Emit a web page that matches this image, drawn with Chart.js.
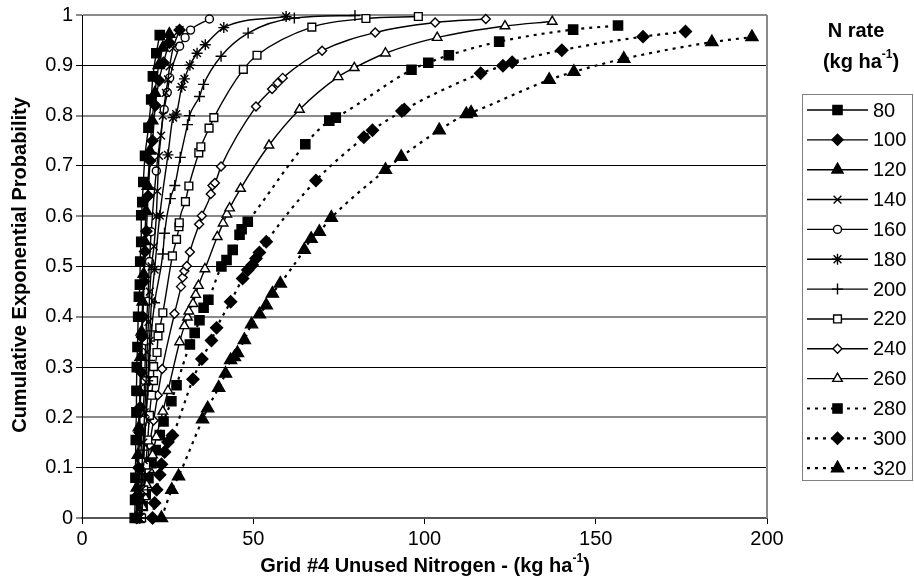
<!DOCTYPE html>
<html>
<head>
<meta charset="utf-8">
<script src="https://cdn.jsdelivr.net/npm/chart.js@4.4.1/dist/chart.umd.min.js"></script>
<style>
  html, body { margin: 0; padding: 0; background: #fff; }
  canvas { display: block; }
</style>
</head>
<body>
<canvas id="cdfChart" width="914" height="581"></canvas>
<script>
// Cumulative exponential probability of unused N, one series per N rate
// ============================================================
const RATES = ['80','100','120','140','160','180','200','220','240','260','280','300','320'];
const X_TICKS = [0, 50, 100, 150, 200];

const x80  = [15.4,15.5,15.6,15.7,15.9,15.9,16.0,16.2,16.4,16.6,16.9,17.0,17.3,17.3,17.6,17.9,18.4,19.4,20.2,20.7,21.7,22.7];
const y80  = [0,0.036,0.08,0.155,0.21,0.253,0.30,0.34,0.40,0.44,0.464,0.51,0.549,0.602,0.628,0.668,0.72,0.776,0.832,0.878,0.924,0.960];
const x100 = [16.0,16.2,16.5,16.8,17.0,17.3,17.5,17.8,18.1,18.4,18.8,19.3,19.9,20.6,21.4,22.5,23.8,25.5,28.5];
const y100 = [0,0.045,0.10,0.17,0.22,0.29,0.36,0.40,0.47,0.53,0.57,0.64,0.71,0.75,0.82,0.87,0.905,0.945,0.970];
const x120 = [15.8,16.0,16.3,16.6,16.9,17.1,17.4,17.7,18.0,18.3,18.7,19.2,19.8,20.5,21.3,22.4,23.6,25.5];
const y120 = [0,0.06,0.125,0.18,0.25,0.32,0.37,0.43,0.485,0.55,0.61,0.66,0.73,0.79,0.845,0.90,0.935,0.962];
const x140 = [16.5,17.0,17.4,17.9,18.3,18.7,19.0,19.4,19.8,20.3,21.0,21.7,22.0,22.5,23.1,23.6,24.5,25.1,25.6,26.6,28.5];
const y140 = [0,0.04,0.09,0.15,0.21,0.27,0.33,0.39,0.45,0.50,0.54,0.60,0.65,0.72,0.76,0.80,0.845,0.872,0.898,0.934,0.970];
const x160 = [15.9,16.5,17.1,17.7,18.3,18.6,19.2,19.7,20.2,21.7,24.0,24.9,25.6,28.5,30.1,31.7,37.2];
const y160 = [0,0.056,0.115,0.194,0.273,0.352,0.431,0.510,0.569,0.690,0.812,0.846,0.875,0.938,0.955,0.970,0.992];
const x180 = [16.8,17.4,18.0,18.6,19.2,19.7,20.3,21.2,22.7,25.1,26.6,27.5,29.1,29.9,31.5,33.6,36.0,41.4,59.6];
const y180 = [0,0.056,0.115,0.194,0.273,0.352,0.431,0.494,0.601,0.722,0.796,0.803,0.857,0.873,0.900,0.924,0.941,0.975,0.997];
const x200 = [16.8,17.4,18.0,18.6,19.2,19.7,20.3,21.2,23.6,24.1,25.8,27.1,28.7,30.8,31.4,34.3,35.5,40.6,48.5,62.0,79.7];
const y200 = [0,0.076,0.135,0.194,0.253,0.313,0.372,0.428,0.525,0.566,0.635,0.661,0.717,0.782,0.800,0.838,0.862,0.918,0.964,0.994,0.999];
const x220 = [17.4,18.0,18.6,19.2,19.7,20.3,20.9,20.9,21.9,22.2,22.7,23.6,26.4,27.6,28.3,28.4,30.2,31.2,34.1,34.7,37.1,38.5,47.1,51.1,67.1,82.9,98.2];
const y220 = [0,0.056,0.105,0.155,0.204,0.244,0.273,0.301,0.329,0.362,0.378,0.408,0.521,0.554,0.579,0.587,0.629,0.660,0.726,0.738,0.775,0.796,0.892,0.920,0.976,0.993,0.997];
const x240 = [17.1,18.0,18.9,19.7,20.9,22.1,23.4,27.0,28.9,29.4,29.9,30.6,31.5,34.2,35.0,37.6,38.1,38.8,40.6,50.8,55.5,57.1,58.6,70.1,85.6,103.1,117.9];
const y240 = [0,0.052,0.096,0.145,0.194,0.244,0.296,0.406,0.460,0.478,0.491,0.501,0.529,0.584,0.601,0.644,0.661,0.666,0.699,0.818,0.853,0.865,0.875,0.929,0.965,0.985,0.992];
const x260 = [17.1,17.7,18.3,18.9,19.7,20.6,21.7,23.6,25.1,28.5,29.9,30.8,31.2,32.4,33.2,34.0,35.9,39.5,41.2,42.3,43.1,46.3,54.6,63.5,74.8,79.5,88.6,103.7,123.5,137.3];
const y260 = [0,0.022,0.042,0.066,0.096,0.125,0.161,0.212,0.253,0.350,0.382,0.399,0.411,0.426,0.444,0.462,0.495,0.559,0.586,0.604,0.616,0.655,0.741,0.812,0.877,0.895,0.924,0.955,0.978,0.987];
const x280 = [16.8,17.7,18.6,19.4,20.3,21.5,22.7,23.8,26.1,27.6,31.5,32.9,34.3,35.5,36.9,40.7,42.2,44.0,46.0,46.6,48.4,65.2,72.2,74.1,96.2,101.1,107.1,121.8,143.4,156.5];
const y280 = [0,0.024,0.047,0.079,0.109,0.135,0.165,0.192,0.232,0.264,0.345,0.368,0.393,0.418,0.434,0.500,0.513,0.533,0.563,0.574,0.589,0.743,0.790,0.796,0.891,0.905,0.920,0.947,0.971,0.979];
const x300 = [20.6,21.2,21.8,22.7,23.2,24.1,25.1,26.4,32.4,35.0,37.8,39.3,43.4,46.9,48.4,49.7,50.8,51.8,53.8,68.3,82.3,84.8,93.4,94.1,116.4,122.9,125.6,140.1,163.8,176.2];
const y300 = [0,0.030,0.056,0.086,0.107,0.131,0.151,0.164,0.276,0.316,0.353,0.378,0.430,0.476,0.493,0.503,0.516,0.528,0.549,0.671,0.757,0.771,0.809,0.812,0.884,0.899,0.906,0.930,0.957,0.967];
const x320 = [23.2,26.2,28.2,35.2,36.7,39.9,41.9,43.4,44.5,45.4,47.4,49.5,51.8,53.8,55.6,57.9,64.9,66.9,69.3,72.8,88.6,93.2,104.3,112.2,113.6,136.4,143.6,158.2,183.9,195.6];
const y320 = [0,0.056,0.083,0.196,0.218,0.259,0.287,0.314,0.320,0.328,0.354,0.385,0.405,0.423,0.446,0.466,0.533,0.555,0.569,0.597,0.692,0.718,0.771,0.803,0.806,0.871,0.887,0.913,0.946,0.956];

const SERIES = [[x80,y80],[x100,y100],[x120,y120],[x140,y140],[x160,y160],[x180,y180],[x200,y200],
                [x220,y220],[x240,y240],[x260,y260],[x280,y280],[x300,y300],[x320,y320]];

// marker look per series (Excel-style)
const MARKERS = [
  { style:'rect',     r:6.5, fill:'#000' },
  { style:'rectRot',  r:5.5, fill:'#000' },
  { style:'triangle', r:6.5, fill:'#000' },
  { style:'crossRot', r:5.5, fill:'#000' },
  { style:'circle',   r:4,   fill:'#fff' },
  { style:'star',     r:5.5, fill:'#000' },
  { style:'cross',    r:5.5, fill:'#000' },
  { style:'rect',     r:5.5, fill:'#fff' },
  { style:'rectRot',  r:4.5, fill:'#fff' },
  { style:'triangle', r:5.5, fill:'#fff' },
  { style:'rect',     r:6.5, fill:'#000' },
  { style:'rectRot',  r:6,   fill:'#000' },
  { style:'triangle', r:7,   fill:'#000' },
];

const FONT = "'Liberation Sans', Arial, sans-serif";
const DOTTED = [3, 5];

const datasets = RATES.map((rate, i) => {
  const m = MARKERS[i];
  const dotted = i >= 10;
  return {
    label: rate,
    data: SERIES[i][0].map((x, k) => ({ x, y: SERIES[i][1][k] })),
    showLine: true,
    borderColor: '#000',
    borderWidth: dotted ? 2.2 : 1.4,
    borderDash: dotted ? DOTTED : [],
    cubicInterpolationMode: 'monotone',
    pointStyle: m.style,
    pointRadius: m.r,
    pointHoverRadius: m.r,
    pointBackgroundColor: m.fill,
    pointBorderColor: '#000',
    pointBorderWidth: 1.4,
    clip: false,
  };
});

// superscript "-1" helper for the unit text
function drawUnit(ctx, pre, sup, post, cx, cy, size) {
  const big = `bold ${size}px ${FONT}`, small = `bold ${Math.round(size * 0.62)}px ${FONT}`;
  ctx.font = big;   const w1 = ctx.measureText(pre).width, w3 = ctx.measureText(post).width;
  ctx.font = small; const w2 = ctx.measureText(sup).width;
  let x = cx - (w1 + w2 + w3) / 2;
  ctx.textAlign = 'left'; ctx.textBaseline = 'middle';
  ctx.font = big;   ctx.fillText(pre, x, cy); x += w1;
  ctx.font = small; ctx.fillText(sup, x, cy - size * 0.36); x += w2;
  ctx.font = big;   ctx.fillText(post, x, cy);
}

const decorPlugin = {
  id: 'decor',
  afterDraw(chart) {
    const ctx = chart.ctx, a = chart.chartArea;
    ctx.save();
    // plot frame on the right
    ctx.strokeStyle = '#8a8a8a'; ctx.lineWidth = 2; ctx.setLineDash([]);
    ctx.beginPath(); ctx.moveTo(a.right, a.top); ctx.lineTo(a.right, a.bottom); ctx.stroke();

    // axis titles
    ctx.fillStyle = '#000';
    ctx.save();
    ctx.translate(20, 265);
    ctx.rotate(-Math.PI / 2);
    ctx.font = `bold 20px ${FONT}`; ctx.textAlign = 'center'; ctx.textBaseline = 'middle';
    ctx.fillText('Cumulative Exponential Probability', 0, 0);
    ctx.restore();
    drawUnit(ctx, 'Grid #4 Unused Nitrogen - (kg ha', '-1', ')', 425, 566, 20);

    // legend title
    ctx.font = `bold 20px ${FONT}`; ctx.textAlign = 'center'; ctx.textBaseline = 'middle';
    ctx.fillText('N rate', 856, 31);
    drawUnit(ctx, '(kg ha', '-1', ')', 861, 62, 20);

    // legend box
    ctx.strokeStyle = '#808080'; ctx.lineWidth = 1;
    ctx.strokeRect(802.5, 94.5, 110, 386);
    chart.data.datasets.forEach((ds, i) => {
      const y = 110 + i * 29.85;
      ctx.strokeStyle = '#000';
      ctx.lineWidth = ds.borderWidth;
      ctx.setLineDash(ds.borderDash);
      ctx.beginPath(); ctx.moveTo(807, y); ctx.lineTo(868, y); ctx.stroke();
      ctx.setLineDash([]);
      ctx.fillStyle = ds.pointBackgroundColor; ctx.strokeStyle = '#000'; ctx.lineWidth = ds.pointBorderWidth;
      Chart.helpers.drawPoint(ctx, { pointStyle: ds.pointStyle, radius: ds.pointRadius, borderWidth: ds.pointBorderWidth, rotation: 0 }, 837.5, y);
      ctx.fillStyle = '#000';
      ctx.font = `20px ${FONT}`; ctx.textAlign = 'left'; ctx.textBaseline = 'middle';
      ctx.fillText(ds.label, 873, y + 1);
    });
    ctx.restore();
  }
};

new Chart(document.getElementById('cdfChart'), {
  type: 'scatter',
  data: { datasets },
  options: {
    responsive: false,
    animation: false,
    devicePixelRatio: 1,
    layout: { padding: { top: 12, right: 147, left: 0, bottom: 0 } },
    plugins: { legend: { display: false }, tooltip: { enabled: false } },
    scales: {
      x: {
        type: 'linear', min: 0, max: 200,
        afterBuildTicks: s => { s.ticks = X_TICKS.map(v => ({ value: v })); },
        afterFit: s => { s.height = 63; },
        ticks: { color: '#000', font: { family: FONT, size: 20 }, padding: 3, maxRotation: 0 },
        grid: { drawOnChartArea: false, drawTicks: true, tickLength: 6, color: '#000' },
        border: { color: '#555', width: 2 },
      },
      y: {
        min: 0, max: 1,
        ticks: { stepSize: 0.1, color: '#000', font: { family: FONT, size: 20 }, padding: 3,
                 callback: v => String(Number(v.toFixed(1))) },
        afterFit: s => { s.width = 82; },
        grid: {
          color: c => (c.index % 2 === 0 ? '#8a8a8a' : '#000'),
          lineWidth: c => (c.index % 2 === 0 ? 2 : 1),
          tickLength: 6,
        },
        border: { color: '#000', width: 1 },
      },
    },
  },
  plugins: [decorPlugin],
});
</script>
</body>
</html>
